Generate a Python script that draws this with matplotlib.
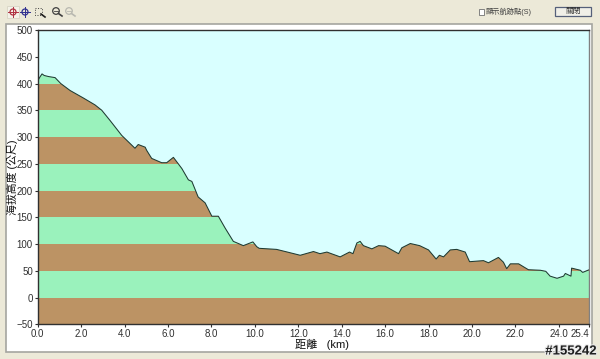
import numpy as np
import matplotlib
matplotlib.use('Agg')
import matplotlib.pyplot as plt
import matplotlib.patheffects as pe
from matplotlib.patches import Rectangle, Circle, Polygon

plt.rcParams['font.family'] = ['Liberation Sans', 'Noto Sans CJK TC', 'DejaVu Sans']

# 距離 (km) / 海拔 (m)
dist = [0.0, 0.1, 0.2, 0.3, 0.5, 0.8, 1.06, 1.49, 2.1, 2.64, 2.95, 3.33, 3.87, 4.48, 4.63,
        4.95, 5.02, 5.25, 5.71, 5.94, 6.25, 6.64, 6.94, 7.1, 7.39, 7.71, 8.02, 8.32, 8.63,
        9.01, 9.47, 9.91, 10.09, 10.2, 11.0, 11.5, 12.09, 12.7, 13.0, 13.32, 13.93, 14.36,
        14.52, 14.7, 14.85, 15.0, 15.39, 15.7, 16.0, 16.62, 16.77, 17.16, 17.59, 18.0, 18.35,
        18.5, 18.69, 19.0, 19.3, 19.69, 19.89, 20.53, 20.76, 21.22, 21.45, 21.6, 21.77, 22.15,
        22.6, 23.15, 23.4, 23.6, 23.92, 24.22, 24.3, 24.56, 24.59, 24.99, 25.1, 25.4]
elev = [405, 412, 418, 415, 413, 411, 400, 387, 373, 360, 350, 331, 303, 279, 286,
        281, 275, 260, 252, 252, 262, 241, 220, 217, 188, 177, 152, 152, 130,
        105, 97, 104, 95, 92, 90, 85, 79, 86, 82, 85, 76, 85,
        82, 102, 105, 97, 91, 97, 96, 82, 93, 101, 97, 89, 72,
        79, 76, 89, 90, 85, 67, 69, 65, 75, 66, 54, 63, 63,
        52, 51, 49, 40, 36, 40, 45, 40, 55, 51, 47, 52]

band_edges = [-50, 0, 50, 100, 150, 200, 250, 300, 350, 400, 450]
band_colors = ['#BC9364', '#9AF2BC']
x_ticks = [0, 2, 4, 6, 8, 10, 12, 14, 16, 18, 20, 22, 24, 25.4]
x_labels = ['0.0', '2.0', '4.0', '6.0', '8.0', '10.0', '12.0', '14.0', '16.0', '18.0',
            '20.0', '22.0', '24.0', '25.4']
y_ticks = [-50, 0, 50, 100, 150, 200, 250, 300, 350, 400, 450, 500]

W, H = 600, 359
fig = plt.figure(figsize=(W / 100, H / 100), dpi=100, facecolor='#ECE9D8')


def pixel_axes(zorder):
    a = fig.add_axes([0, 0, 1, 1], zorder=zorder)
    a.set_xlim(0, W)
    a.set_ylim(H, 0)
    a.axis('off')
    return a


# 視窗外框、工具列 (像素座標)
ui = pixel_axes(0)
ui.add_patch(Rectangle((6, 24), 586, 328, fc='white', ec='#A5A5A0', lw=1.2))
ui.add_patch(Rectangle((7, 6), 12, 12, fc='#F4F2E8', ec='#D8D5C5', lw=0.6))
for cx, col in [(13, '#B03040'), (25, '#303090')]:
    ui.add_patch(Circle((cx, 12), 3, fc='none', ec=col, lw=0.9))
    ui.plot([cx - 5, cx + 5], [12, 12], color=col, lw=0.7)
    ui.plot([cx, cx], [7, 17], color=col, lw=0.7)
ui.add_patch(Rectangle((35, 8), 7, 7, fc='none', ec='#404040', lw=0.7, ls=':'))
ui.plot([41, 45], [14, 17], color='#202020', lw=1.2)
for cx, col in [(56, '#404040'), (69, '#B8B8B0')]:
    ui.add_patch(Circle((cx, 11), 3.3, fc='none', ec=col, lw=0.9))
    ui.plot([cx + 2.5, cx + 6], [13.5, 16], color=col, lw=1.2)
    ui.plot([cx - 2, cx + 2], [11, 11], color=col, lw=0.6)
ui.add_patch(Rectangle((478.5, 9), 5.5, 5.5, fc='white', ec='#707070', lw=0.6))
ui.text(486, 12, '顯示航跡點(S)', fontsize=5.2, color='#404040', va='center', ha='left')
ui.add_patch(Rectangle((555, 7), 36, 9, fc='#F0EFE8', ec='#55607A', lw=0.9))
ui.text(573, 11.7, '關閉', fontsize=5.6, color='#303030', va='center', ha='center')
ui.text(12.5, 177, '海拔高度 (公尺)', rotation=90, fontsize=7.8, color='#101010', va='center', ha='center')
ui.text(322, 344, '距離   (km)', fontsize=8, color='#101010', va='center', ha='center')

# 高度剖面圖
ax = fig.add_axes([37.7 / W, 1 - 324.3 / H, (589.2 - 37.7) / W, (324.3 - 30) / H], zorder=1)
ax.set_facecolor('#D9FFFF')
ax.set_xlim(0, 25.4)
ax.set_ylim(-50, 500)

profile = Polygon(list(zip(dist, elev)) + [(dist[-1], -50), (dist[0], -50)], closed=True,
                  transform=ax.transData, fc='none', ec='none')
ax.add_patch(profile)
for i in range(len(band_edges) - 1):
    band = ax.axhspan(band_edges[i], band_edges[i + 1], color=band_colors[i % 2], lw=0)
    band.set_clip_path(profile)
ax.plot(dist, elev, color='#1E3A32', lw=0.75)

ax.set_xticks(x_ticks)
ax.set_xticklabels(x_labels)
ax.set_yticks(y_ticks)
ax.tick_params(axis='both', labelsize=7, length=2.5, width=0.8, pad=1, colors='#303030')
ax.get_xticklabels()[-1].set_ha('right')
ax.get_xticklabels()[-1].set_x(25.4)
for s in ax.spines.values():
    s.set_linewidth(1.0)
    s.set_color('#303030')
ax.spines['right'].set_color('#808080')

# 浮水印
top = pixel_axes(2)
top.text(597, 351.5, '#155242', fontsize=9.5, fontweight='bold', color='#202020', va='center', ha='right',
         path_effects=[pe.withStroke(linewidth=1.5, foreground='#E8E8E8')])

fig.savefig('out.png', dpi=100, facecolor=fig.get_facecolor())
